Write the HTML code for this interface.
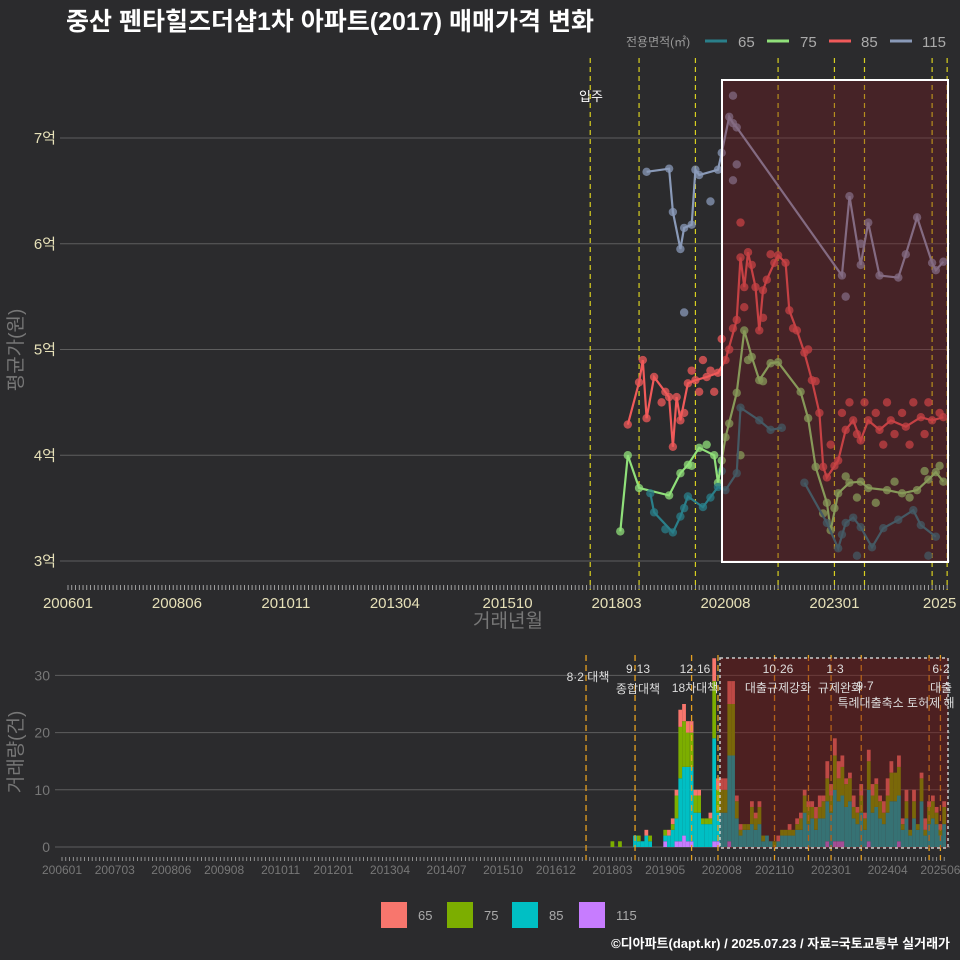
<!DOCTYPE html>
<html><head><meta charset="utf-8"><style>
body{margin:0;background:#2b2b2d;}
svg{display:block;font-family:"Liberation Sans","Noto Sans CJK KR",sans-serif;}
</style></head><body>
<svg id="c" width="960" height="960" viewBox="0 0 960 960">
<rect width="960" height="960" fill="#2b2b2d"/>
<text x="66" y="30" fill="#ffffff" font-size="25" font-weight="bold">중산 펜타힐즈더샵1차 아파트(2017) 매매가격 변화</text>
<g>
<text x="626" y="46" fill="#999" font-size="12">전용면적(㎡)</text>
<line x1="705" y1="41" x2="727" y2="41" stroke="#2a7f8a" stroke-width="3"/>
<text x="738" y="47" fill="#aaa" font-size="15">65</text>
<line x1="767" y1="41" x2="789" y2="41" stroke="#90e07a" stroke-width="3"/>
<text x="800" y="47" fill="#aaa" font-size="15">75</text>
<line x1="829" y1="41" x2="851" y2="41" stroke="#f05a5a" stroke-width="3"/>
<text x="861" y="47" fill="#aaa" font-size="15">85</text>
<line x1="890" y1="41" x2="912" y2="41" stroke="#8a9ab8" stroke-width="3"/>
<text x="922" y="47" fill="#aaa" font-size="15">115</text>
</g>
<g id="topPanel"></g>
<g id="botPanel"></g>
<g>
<rect x="381" y="902" width="26" height="26" fill="#f8766d"/>
<text x="418" y="920" fill="#aaa" font-size="13">65</text>
<rect x="447" y="902" width="26" height="26" fill="#7cae00"/>
<text x="484" y="920" fill="#aaa" font-size="13">75</text>
<rect x="512" y="902" width="26" height="26" fill="#00bfc4"/>
<text x="549" y="920" fill="#aaa" font-size="13">85</text>
<rect x="579" y="902" width="26" height="26" fill="#c77cff"/>
<text x="616" y="920" fill="#aaa" font-size="13">115</text>
</g>
<text x="950" y="948" text-anchor="end" fill="#fff" font-size="13" font-weight="bold">©디아파트(dapt.kr) / 2025.07.23 / 자료=국토교통부 실거래가</text>
</svg>
<script>
// ---- price data (억) ----
const s115Dates=["2018.11","2019.05","2019.06","2019.08","2019.09","2019.11","2019.12","2020.01","2020.06","2020.07","2020.09","2020.10","2020.11","2023.03","2023.05","2023.08","2023.10","2024.01","2024.06","2024.08","2024.11","2025.03","2025.04","2025.06"];
const s115Vals=[6.68,6.71,6.30,5.95,6.15,6.18,6.70,6.65,6.70,6.86,7.2,7.14,7.1,5.70,6.45,5.8,6.2,5.70,5.68,5.9,6.25,5.82,5.75,5.83];
const s85Dates=["2018.06","2018.09","2018.10","2018.11","2019.01","2019.05","2019.06","2019.07","2019.08","2019.10","2019.12","2020.03","2020.06","2020.08","2020.11","2020.12","2021.01","2021.02","2021.04","2021.05","2021.06","2021.07","2021.09","2021.10","2021.12","2022.01","2022.03","2022.05","2022.07","2022.09","2022.10","2022.11","2023.02","2023.04","2023.06","2023.08","2023.10","2024.01","2024.04","2024.08","2024.12","2025.03","2025.06"];
const s85Vals=[4.29,4.69,4.90,4.35,4.74,4.55,4.08,4.55,4.33,4.68,4.71,4.74,4.78,4.90,5.28,5.87,5.59,5.92,5.59,5.18,5.56,5.66,5.82,5.89,5.82,5.37,5.18,4.97,4.71,4.40,3.89,3.79,3.95,4.24,4.33,4.14,4.33,4.24,4.33,4.27,4.36,4.33,4.36];
const s75Dates=["2018.04","2018.06","2018.09","2019.05","2019.08","2019.10","2020.01","2020.05","2020.06","2020.07","2020.08","2020.11","2021.01","2021.03","2021.05","2021.08","2021.10","2022.04","2022.06","2022.08","2022.11","2022.12","2023.02","2023.05","2023.08","2023.10","2024.03","2024.07","2024.11","2025.02","2025.04","2025.06"];
const s75Vals=[3.28,4.0,3.69,3.62,3.83,3.91,4.07,4.0,3.74,3.95,4.17,4.59,5.18,4.93,4.71,4.87,4.88,4.60,4.35,3.89,3.55,3.29,3.64,3.74,3.75,3.69,3.67,3.64,3.67,3.77,3.84,3.75];
const s65Dates=["2018.12","2019.01","2019.06","2019.08","2019.10","2020.02","2020.06","2020.08","2020.11","2020.12","2021.05","2021.08","2021.11","2022.05","2022.11","2023.02","2023.04","2023.06","2023.08","2023.11","2024.02","2024.06","2024.10","2024.12","2025.04"];
const s65Vals=[3.64,3.46,3.27,3.42,3.61,3.51,3.70,3.67,3.83,4.45,4.33,4.24,4.26,3.74,3.36,3.12,3.36,3.41,3.32,3.13,3.31,3.39,3.48,3.34,3.23];
const s65Breaks=[13];
// individual transaction scatter (extra)
const s85ExtraDates=["2019.03","2019.04","2019.09","2019.11","2020.01","2020.02","2020.04","2020.05","2020.07","2020.09","2020.10","2020.12","2021.01","2021.03","2021.06","2021.08","2022.02","2022.06","2022.08","2022.12","2023.01","2023.03","2023.05","2023.07","2023.09","2023.12","2024.02","2024.03","2024.05","2024.07","2024.09","2024.10","2025.01","2025.02","2025.05"];
const s85ExtraVals=[4.5,4.6,4.4,4.8,4.6,4.9,4.8,4.6,5.1,5.0,5.2,6.2,5.4,5.8,5.3,5.9,5.2,5.0,4.7,4.1,3.9,4.4,4.5,4.2,4.5,4.4,4.1,4.5,4.2,4.4,4.1,4.5,4.2,4.5,4.4];
const s75ExtraDates=["2019.11","2020.03","2020.09","2020.12","2021.02","2021.06","2022.10","2023.01","2023.04","2023.07","2023.12","2024.05","2024.09","2025.01","2025.05"];
const s75ExtraVals=[3.9,4.1,4.3,4.0,4.9,4.7,3.45,3.5,3.8,3.6,3.55,3.75,3.6,3.85,3.9];
const s65ExtraDates=["2019.04","2019.09","2020.04","2020.07","2023.03","2023.07","2025.02"];
const s65ExtraVals=[3.3,3.5,3.6,3.85,3.25,3.05,3.05];
const s115ExtraDates=["2019.09","2020.04","2020.10","2020.11","2020.10","2023.04","2023.08"];
const s115ExtraVals=[5.35,6.4,7.4,6.75,6.6,5.5,6.0];
const priceTicks=[3,4,5,6,7];
const xTickLabels=["200601","200806","201011","201304","201510","201803","202008","202301","2025"];
const xTickDates=["2006.01","2008.06","2010.11","2013.04","2015.10","2018.03","2020.08","2023.01","2025.05"];
// ---- volume data (monthly from 2017.12) ----
const barStart="2017.12";
const vol65=[0,0,0,0,0,0,0,0,0,0,0,0,1,0,0,0,0,0,1,1,1,3,3,2,2,1,1,0,0,1,4,2,2,2,4,4,1,1,0,0,1,1,1,0,0,0,0,1,0,0,1,0,1,1,1,1,1,2,2,1,3,2,3,3,2,1,1,2,1,2,1,2,2,1,1,2,3,2,0,2,1,2,0,2,0,1,2,1,1,1,1,1];
const vol75=[0,0,0,1,0,1,0,0,0,0,1,0,0,1,0,0,0,1,0,1,4,9,8,6,6,3,3,1,1,1,10,4,4,4,9,9,3,1,1,1,3,2,3,1,0,0,1,0,1,1,1,1,1,2,3,3,2,2,2,3,4,3,6,4,5,4,4,2,2,3,2,5,3,4,3,2,3,5,5,5,1,3,1,3,1,4,1,3,3,2,1,3];
const vol85=[0,0,0,0,0,0,0,0,0,2,1,1,2,1,0,0,0,1,2,3,4,11,12,13,13,6,6,4,4,4,18,5,6,6,15,16,5,2,3,3,4,3,4,1,2,1,0,1,2,2,2,2,3,3,6,4,5,3,5,5,7,6,9,7,8,7,8,5,4,6,3,9,6,7,5,4,6,8,8,8,3,5,2,5,3,8,2,4,5,4,2,4];
const vol115=[0,0,0,0,0,0,0,0,0,0,0,0,0,0,0,0,0,1,0,0,1,1,2,1,1,0,0,0,0,0,1,1,0,0,1,0,0,0,0,0,0,0,0,0,0,0,0,0,0,0,0,0,0,0,0,0,0,0,0,0,1,0,1,1,1,0,0,0,0,0,0,1,0,0,0,0,0,0,0,1,0,0,0,0,0,0,0,0,0,0,0,0];
const volTicks=[0,10,20,30];
const botTickLabels=["200601","200703","200806","200908","201011","201201","201304","201407","201510","201612","201803","201905","202008","202110","202301","202404","202506"];
const botTickDates=["2006.01","2007.03","2008.06","2009.08","2010.11","2012.01","2013.04","2014.07","2015.10","2016.12","2018.03","2019.05","2020.08","2021.10","2023.01","2024.04","2025.06"];
const policyDates=["2017.08","2018.09","2019.12","2020.07","2021.10","2022.07","2023.01","2023.09","2025.03","2025.06"];
const topVlineDates=["2017.08","2018.09","2019.12","2021.10","2023.01","2023.09","2025.03","2025.07"];

const NS="http://www.w3.org/2000/svg";
function mk(p,tag,a){const e=document.createElementNS(NS,tag);for(const k in a)e.setAttribute(k,a[k]);p.appendChild(e);return e;}
function mi(d){const [y,m]=d.split(".").map(Number);return (y-2006)*12+(m-1);}
const xT=d=>68+mi(d)*3.757;
const yT=v=>561-(v-3)*105.75;
const xB=i=>62+i*3.77;
const yB=v=>847-v*5.72;

const topG=document.getElementById("topPanel");
priceTicks.forEach(v=>{
 const l=mk(topG,"line",{x1:60,x2:950,y1:yT(v),y2:yT(v),stroke:"#5e5e5e","stroke-width":1});
 
 
 const t=mk(topG,"text",{x:56,y:yT(v)+5,"text-anchor":"end",fill:"#e6e0b8","font-size":15});
 t.textContent=v+"억";
 
 
});
for(let m=0;m<=234;m++){
 const l=mk(topG,"line",{x1:68+m*3.757,x2:68+m*3.757,y1:585,y2:590,stroke:"#bbb","stroke-width":0.8});
 
 
}
xTickLabels.forEach((lab,i)=>{
 const t=mk(topG,"text",{x:xT(xTickDates[i]),y:608,"text-anchor":"middle",fill:"#e6e0b8","font-size":15});
 t.textContent=lab;
 
 
});
topVlineDates.forEach(d=>{
 const l=mk(topG,"line",{x1:xT(d),x2:xT(d),y1:58,y2:590,stroke:"#d8d020","stroke-width":1.2,"stroke-dasharray":"5,4"});
 
 
});
const ip=mk(topG,"text",{x:591,y:101,"text-anchor":"middle",fill:"#fff","font-size":13});
ip.textContent="입주";


const yl=mk(topG,"text",{x:22,y:350,"text-anchor":"middle",fill:"#777","font-size":19,transform:"rotate(-90 22 350)"});
yl.textContent="평균가(원)";


const xl=mk(topG,"text",{x:508,y:627,"text-anchor":"middle",fill:"#777","font-size":19});
xl.textContent="거래년월";



function dots(dates,vals,color,name){
 dates.forEach((dt,i)=>{
  const c=mk(topG,"circle",{cx:xT(dt),cy:yT(vals[i]),r:4.2,fill:color,opacity:0.75});
  
  
 });
}
function series(dates,vals,color,name,breaks){
 let d="";
 dates.forEach((dt,i)=>{d+=((i===0||(breaks&&breaks.includes(i)))?"M":"L")+xT(dt).toFixed(1)+","+yT(vals[i]).toFixed(1);});
 const p=mk(topG,"path",{d:d,fill:"none",stroke:color,"stroke-width":2.2});
 
 
 dots(dates,vals,color,name);
}
dots(s115ExtraDates,s115ExtraVals,"#8a9ab8","area-115");
dots(s85ExtraDates,s85ExtraVals,"#f05a5a","area-85");
dots(s75ExtraDates,s75ExtraVals,"#90e07a","area-75");
dots(s65ExtraDates,s65ExtraVals,"#2a7f8a","area-65");
series(s115Dates,s115Vals,"#8a9ab8","area-115");
series(s85Dates,s85Vals,"#f05a5a","area-85");
series(s75Dates,s75Vals,"#90e07a","area-75");
series(s65Dates,s65Vals,"#2a7f8a","area-65",s65Breaks);
const hr=mk(topG,"rect",{x:722,y:80,width:226,height:482,fill:"rgba(120,20,30,0.35)",stroke:"#fff","stroke-width":2});



const botG=document.getElementById("botPanel");
volTicks.forEach(v=>{
 const l=mk(botG,"line",{x1:55,x2:950,y1:yB(v),y2:yB(v),stroke:"#5e5e5e","stroke-width":1});
 
 
 const t=mk(botG,"text",{x:50,y:yB(v)+5,"text-anchor":"end",fill:"#777","font-size":14});
 t.textContent=v;
 
 
});
for(let m=0;m<=234;m++){
 const l=mk(botG,"line",{x1:62+m*3.77,x2:62+m*3.77,y1:857,y2:861,stroke:"#aaa","stroke-width":0.8});
 
 
}
botTickLabels.forEach((lab,i)=>{
 const t=mk(botG,"text",{x:xB(mi(botTickDates[i])),y:874,"text-anchor":"middle",fill:"#777","font-size":12});
 t.textContent=lab;
 
 
});
const s0=mi(barStart);
const stackOrder=[[vol115,"#c77cff","bar-115"],[vol85,"#00bfc4","bar-85"],[vol75,"#7cae00","bar-75"],[vol65,"#f8766d","bar-65"]];
vol85.forEach((_,i)=>{
 let acc=0;
 stackOrder.forEach(([arr,col,nm])=>{
  const v=arr[i]; if(!v)return;
  const r=mk(botG,"rect",{x:xB(s0+i)-1.9,y:yB(acc+v),width:3.77,height:v*5.72,fill:col});
  
  
  acc+=v;
 });
});
policyDates.forEach(d=>{
 const l=mk(botG,"line",{x1:xB(mi(d)),x2:xB(mi(d)),y1:655,y2:860,stroke:"#e6a020","stroke-width":1.3,"stroke-dasharray":"6,4"});
 
 
});
const br=mk(botG,"rect",{x:720,y:658,width:228,height:190,fill:"rgba(120,20,20,0.45)",stroke:"#ccc","stroke-width":1.5,"stroke-dasharray":"3,3"});


const ann=[["8·2 대책",588,681],["9·13",638,673],["종합대책",638,693],["12·16",695,673],["18차대책",695,692],["10·26",778,673],["대출규제강화",778,692],["1·3",835,673],["규제완화",840,692],["9·7",865,690],["특례대출축소 토허제 해",896,707],["6·2",941,673],["대출",941,692]];
ann.forEach(([t,x,y])=>{
 const e=mk(botG,"text",{x:x,y:y,"text-anchor":"middle",fill:"#ddd","font-size":12});
 e.textContent=t;
 
 
});
const yl2=mk(botG,"text",{x:22,y:752,"text-anchor":"middle",fill:"#777","font-size":19,transform:"rotate(-90 22 752)"});
yl2.textContent="거래량(건)";


</script>
</body></html>
